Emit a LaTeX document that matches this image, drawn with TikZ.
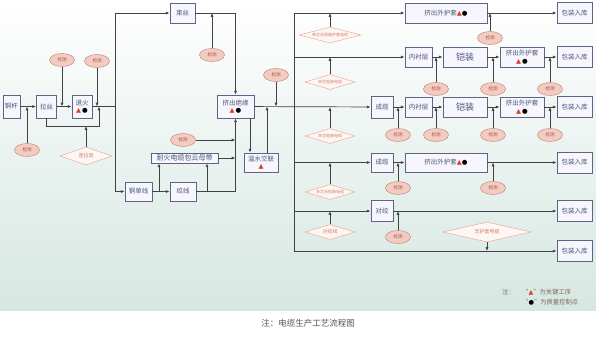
\documentclass[tikz,border=0pt]{standalone}
\usepackage{fontspec}
\setmainfont{Noto Sans CJK SC}
\newfontfamily\symfont{DejaVu Sans}
\usetikzlibrary{shapes.geometric, arrows.meta, positioning, calc}

\definecolor{boxline}{RGB}{95,100,135}
\definecolor{boxfill}{RGB}{246,246,252}
\definecolor{boxtext}{RGB}{75,85,125}
\definecolor{ellline}{RGB}{190,125,115}
\definecolor{ellfill}{RGB}{242,203,193}
\definecolor{elltext}{RGB}{165,75,65}
\definecolor{diamline}{RGB}{230,160,140}
\definecolor{diamfill}{RGB}{253,246,242}
\definecolor{diamtext}{RGB}{215,125,105}
\definecolor{linec}{RGB}{65,65,70}
\definecolor{tri}{RGB}{215,65,45}
\definecolor{bgbottom}{RGB}{214,231,225}
\definecolor{legtext}{RGB}{125,105,95}
\definecolor{captext}{RGB}{85,85,85}

\newcommand{\keyop}{{\symfont\color{tri}▲}}
\newcommand{\qcpt}{{\symfont\color{black}●}}

\begin{document}
\begin{tikzpicture}[x=1pt, y=-1pt,
    box/.style={draw=boxline, fill=boxfill, text=boxtext, inner sep=0.5pt, align=center, line width=0.8pt, font=\fontsize{6.5}{7.5}\selectfont},
    pack/.style={box, minimum width=35pt, minimum height=21pt},
    check/.style={ellipse, draw=ellline, fill=ellfill, text=elltext, inner sep=0pt, minimum width=25pt, minimum height=13pt, font=\fontsize{4.5}{5}\selectfont},
    choice/.style={diamond, aspect=4, draw=diamline, fill=diamfill, text=diamtext, inner sep=0pt, minimum width=50pt, minimum height=15pt, font=\fontsize{4}{5}\selectfont},
    arrow/.style={-{Latex[length=3.8pt,width=3pt]}, draw=linec, line width=0.7pt},
    link/.style={draw=linec, line width=0.7pt},
    legend/.style={text=legtext, inner sep=0pt, font=\fontsize{6.3}{7}\selectfont}
]
    \useasboundingbox (0,0) rectangle (596,338);
    \fill[top color=white, bottom color=bgbottom] (0,0) rectangle (596,310);

    % wire drawing and annealing
    \node[box, minimum width=17pt, minimum height=23pt] (rod) at (11.5,106.5) {铜杆};
    \node[box, minimum width=20pt, minimum height=23pt] (drawing) at (46.5,106.5) {拉丝};
    \node[box, minimum width=20pt, minimum height=23pt] (anneal) at (82,106.5) {退火\\\keyop\,\qcpt};
    \node[check] (chkrod) at (27,150) {检测};
    \node[check] (chkdraw) at (62,60) {检测};
    \node[check] (chkanneal) at (97,61) {检测};
    \node[choice, minimum width=52pt, minimum height=18pt, font=\fontsize{5}{6}\selectfont] (cont) at (86,156) {连拉退};
    \coordinate (bypass) at (99,126);
    \coordinate (fork) at (115,106.5);

    \draw[arrow] (rod) -- (drawing);
    \draw[arrow] (chkrod) -- (chkrod |- rod);
    \draw[arrow] (drawing) -- (anneal);
    \draw[arrow] (chkdraw) -- (chkdraw |- drawing);
    \draw[arrow] (drawing.south) |- (bypass) -- (bypass |- anneal);
    \draw[arrow] (cont) -- (cont |- bypass);
    \draw[arrow] (chkanneal) -- (chkanneal |- anneal);
    \draw[link] (anneal) -- (fork);

    % conductor and insulation
    \node[box, minimum width=25pt, minimum height=20pt] (bunch) at (182.5,13) {束丝};
    \node[check] (chkbunch) at (212,55) {检测};
    \node[box, minimum width=37pt, minimum height=23pt] (insul) at (235.5,106.5) {挤出绝缘\\\keyop\,\qcpt};
    \node[check] (chkinsul) at (276,75) {检测};
    \node[box, minimum width=34pt, minimum height=19pt] (xlink) at (261,162.5) {温水交联\\\keyop};
    \node[box, minimum width=27pt, minimum height=19pt] (single) at (138.5,191.5) {铜单线};
    \node[box, minimum width=26pt, minimum height=19pt] (strand) at (183,191.5) {绞线};
    \node[box, minimum width=67pt, minimum height=10pt, font=\fontsize{7}{8}\selectfont] (mica) at (184.5,158) {耐火电缆包云母带};
    \node[check] (chkmica) at (183,140) {检测};
    \coordinate (tap1) at (159,191.5);
    \coordinate (tap2) at (207,191.5);
    \coordinate (xdown) at (250,0);
    \coordinate (xup) at (267,0);

    \draw[arrow] (fork) |- (bunch);
    \draw[arrow] (fork) |- (single);
    \draw[arrow] (bunch.east) -| (insul.north);
    \draw[arrow] (chkbunch) -- (chkbunch |- bunch);
    \draw[arrow] (single) -- (strand);
    \draw[arrow] (tap1) -- (tap1 |- mica.south);
    \draw[arrow] (strand.east) -| (insul.south);
    \draw[arrow] (tap2) -- (tap2 |- mica.south);
    \draw[arrow] (mica) -- (mica -| insul.south);
    \draw[arrow] (chkmica) -- (chkmica -| insul.south);
    \draw[arrow] (xdown |- insul.south) -- (xdown |- xlink.north);
    \draw[arrow] (xup |- xlink.north) -- (xup |- insul.east);
    \draw[arrow] (chkinsul) -- (chkinsul |- insul.east);

    % cable types
    \node[box, minimum width=82pt, minimum height=20pt] (sheath1) at (446,13) {挤出外护套\keyop\qcpt};
    \node[pack] (pack1) at (574.5,13) {包装入库};
    \node[box, minimum width=27pt, minimum height=20pt] (lining2) at (418.5,57) {内衬层};
    \node[box, minimum width=44pt, minimum height=20pt, font=\fontsize{9}{10}\selectfont] (armor2) at (465,57) {铠装};
    \node[box, minimum width=44pt, minimum height=20pt] (sheath2) at (522,57) {挤出外护套\\\keyop\,\qcpt};
    \node[pack] (pack2) at (574.5,57) {包装入库};
    \node[box, minimum width=22pt, minimum height=22pt] (cable3) at (382,107) {成缆};
    \node[box, minimum width=27pt, minimum height=20pt] (lining3) at (418.5,107) {内衬层};
    \node[box, minimum width=44pt, minimum height=20pt, font=\fontsize{9}{10}\selectfont] (armor3) at (465,107) {铠装};
    \node[box, minimum width=44pt, minimum height=20pt] (sheath3) at (522,107) {挤出外护套\\\keyop\,\qcpt};
    \node[pack] (pack3) at (574.5,107) {包装入库};
    \node[box, minimum width=22pt, minimum height=19pt] (cable4) at (382,162.5) {成缆};
    \node[box, minimum width=82pt, minimum height=19pt] (sheath4) at (446,162.5) {挤出外护套\keyop\qcpt};
    \node[pack] (pack4) at (574.5,162.5) {包装入库};
    \node[box, minimum width=22pt, minimum height=21pt] (twist5) at (382,211) {对绞};
    \node[pack] (pack5) at (574.5,211) {包装入库};
    \node[pack] (pack6) at (574.5,251) {包装入库};

    \node[choice, minimum width=62pt, minimum height=16pt] (dia1) at (330,35) {单芯无铠装护套电缆};
    \node[choice] (dia2) at (330,82) {单芯铠装电缆};
    \node[choice] (dia3) at (330,136) {多芯铠装电缆};
    \node[choice] (dia4) at (330,192) {多芯无铠装电缆};
    \node[choice, font=\fontsize{5}{6}\selectfont] (dia5) at (330,232) {对绞线};
    \node[choice, minimum width=88pt, minimum height=20pt, font=\fontsize{5}{6}\selectfont] (dia6) at (487,232) {无护套电缆};

    \node[check] (chk1) at (490,38) {检测};
    \node[check] (chk2a) at (436,89) {检测};
    \node[check] (chk2b) at (493,89) {检测};
    \node[check] (chk2c) at (550,89) {检测};
    \node[check] (chk3a) at (398,135) {检测};
    \node[check] (chk3b) at (436,135) {检测};
    \node[check] (chk3c) at (493,135) {检测};
    \node[check] (chk3d) at (550,135) {检测};
    \node[check] (chk4a) at (398,188) {检测};
    \node[check] (chk4b) at (493,188) {检测};
    \node[check] (chk5) at (398,237) {检测};

    \coordinate (busT) at (294,13);
    \coordinate (busB) at (294,251);
    \draw[link] (busT) -- (busB);
    \draw[arrow] (insul) -- (cable3);
    \draw[arrow] (busT) -- (sheath1);
    \draw[arrow] (busT |- lining2) -- (lining2);
    \draw[arrow] (busT |- cable4) -- (cable4);
    \draw[arrow] (busT |- twist5) -- (twist5);
    \draw[arrow] (busB) -- (pack6);

    \draw[arrow] (sheath1) -- (pack1);
    \draw[arrow] (lining2) -- (armor2);
    \draw[arrow] (armor2) -- (sheath2);
    \draw[arrow] (sheath2) -- (pack2);
    \draw[arrow] (cable3) -- (lining3);
    \draw[arrow] (lining3) -- (armor3);
    \draw[arrow] (armor3) -- (sheath3);
    \draw[arrow] (sheath3) -- (pack3);
    \draw[arrow] (cable4) -- (sheath4);
    \draw[arrow] (sheath4) -- (pack4);
    \draw[arrow] (twist5) -- (pack5);

    \draw[arrow] (dia1) -- (dia1 |- sheath1);
    \draw[arrow] (dia2) -- (dia2 |- lining2);
    \draw[arrow] (dia3) -- (dia3 |- cable3);
    \draw[arrow] (dia4) -- (dia4 |- cable4);
    \draw[arrow] (dia5) -- (dia5 |- twist5);
    \draw[arrow] (dia6) -- (dia6 |- pack6);

    \draw[arrow] (chk1) -- (chk1 |- sheath1);
    \draw[arrow] (chk2a) -- (chk2a |- lining2);
    \draw[arrow] (chk2b) -- (chk2b |- lining2);
    \draw[arrow] (chk2c) -- (chk2c |- lining2);
    \draw[arrow] (chk3a) -- (chk3a |- cable3);
    \draw[arrow] (chk3b) -- (chk3b |- cable3);
    \draw[arrow] (chk3c) -- (chk3c |- cable3);
    \draw[arrow] (chk3d) -- (chk3d |- cable3);
    \draw[arrow] (chk4a) -- (chk4a |- cable4);
    \draw[arrow] (chk4b) -- (chk4b |- cable4);
    \draw[arrow] (chk5) -- (chk5 |- twist5);

    % legend and caption
    \node[legend, anchor=west] (note) at (502,292) {注：};
    \node[legend, anchor=west] (keyitem) at (522,292) {“\keyop”为关键工序};
    \node[legend, anchor=west] (qcitem) at (522,302) {“\qcpt”为质量控制点};
    \node[text=captext, font=\fontsize{8.5}{9}\selectfont] (caption) at (308,323) {注：电缆生产工艺流程图};
\end{tikzpicture}
\end{document}
